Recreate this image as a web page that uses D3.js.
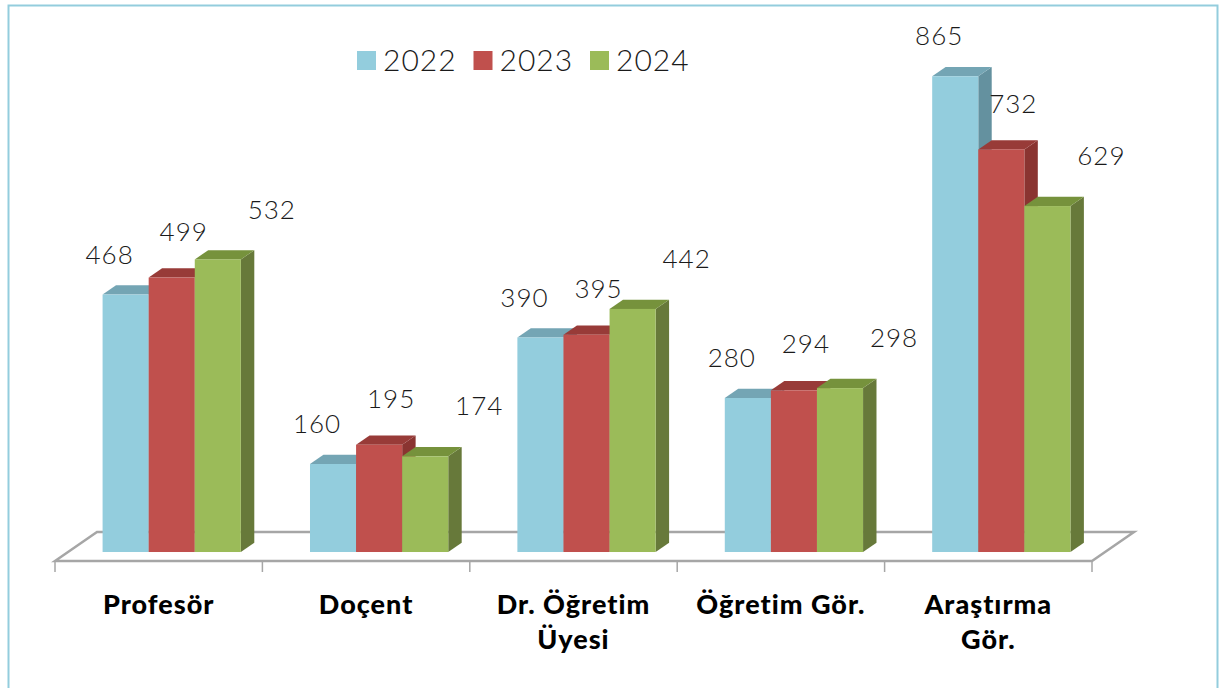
<!DOCTYPE html>
<html>
<head>
<meta charset="utf-8">
<script src="https://cdn.jsdelivr.net/npm/d3@7"></script>
<style>
  body { margin: 0; background: #fff; }
  svg { display: block; }
</style>
</head>
<body>
<svg id="chart"></svg>
<script>
// data
const years = ["2022", "2023", "2024"];
const categories = ["Profesör", "Doçent", "Dr. Öğretim Üyesi", "Öğretim Gör.", "Araştırma Gör."];
const catLines = [["Profesör"], ["Doçent"], ["Dr. Öğretim", "Üyesi"], ["Öğretim Gör."], ["Araştırma", "Gör."]];
const v2022 = [468, 160, 390, 280, 865];
const v2023 = [499, 195, 395, 294, 732];
const v2024 = [532, 174, 442, 298, 629];

const series = [v2022, v2023, v2024];
const colors = {
  front: ["#93CDDD", "#C0504D", "#9BBB59"],
  side:  ["#64919F", "#8A3431", "#67793A"],
  top:   ["#74A5B4", "#983B38", "#76923C"]
};

const W = 1219, H = 688;
const floorY = 561;
const depth = {dx: 42, dy: -29};   // full floor depth
const k0 = 0.31, k1 = 0.63;          // bar depth slot inside floor

const svg = d3.select("#chart").attr("width", W).attr("height", H);

// outer frame
svg.append("rect")
  .attr("x", 8.5).attr("y", 5.5)
  .attr("width", 1209).attr("height", 700)
  .attr("fill", "none")
  .attr("stroke", "#93CDDD")
  .attr("stroke-width", 2);

const x = d3.scaleBand().domain(categories).range([55, 1092]).padding(0);
const xs = d3.scaleBand().domain(years).range([0, x.bandwidth()])
  .paddingInner(0).paddingOuter(0.75);
const h = d3.scaleLinear().domain([0, 1000]).range([0, 550]);

// floor
const fl = 55, fr = 1092;
const floor = svg.append("g")
  .attr("fill", "none")
  .attr("stroke", "#A6A6A6")
  .attr("stroke-width", 2.5);
floor.append("path")
  .attr("d", `M${fl},${floorY} L${fl + depth.dx},${floorY + depth.dy} L${fr + depth.dx},${floorY + depth.dy} L${fr},${floorY} Z`)
  .attr("fill", "#fff");
const tickXs = categories.map(c => x(c)).concat([x.range()[1]]);
floor.selectAll("line.tick")
  .data(tickXs)
  .enter().append("line")
  .attr("class", "tick")
  .attr("x1", d => d).attr("x2", d => d)
  .attr("y1", floorY).attr("y2", floorY + 11)
  .attr("stroke-width", 1.5);

// bars
const bx0 = depth.dx * k0, by0 = floorY + depth.dy * k0;
const tdx = depth.dx * (k1 - k0), tdy = depth.dy * (k1 - k0);

const bars = [];
categories.forEach((c, i) => {
  years.forEach((yr, s) => {
    const v = series[s][i];
    const x0 = x(c) + xs(yr) + bx0;
    const x1 = x0 + xs.bandwidth();
    const yTop = by0 - h(v);
    bars.push({c, i, s, v, x0, x1, yTop});
  });
});

const g = svg.append("g");
bars.forEach(b => {
  g.append("path")
    .attr("d", `M${b.x1},${by0} L${b.x1 + tdx},${by0 + tdy} L${b.x1 + tdx},${b.yTop + tdy} L${b.x1},${b.yTop} Z`)
    .attr("fill", colors.side[b.s]);
  g.append("path")
    .attr("d", `M${b.x0},${b.yTop} L${b.x0 + tdx},${b.yTop + tdy} L${b.x1 + tdx},${b.yTop + tdy} L${b.x1},${b.yTop} Z`)
    .attr("fill", colors.top[b.s]);
  g.append("rect")
    .attr("x", b.x0).attr("y", b.yTop)
    .attr("width", b.x1 - b.x0).attr("height", by0 - b.yTop)
    .attr("fill", colors.front[b.s]);
});

// value labels (excel 3d style, pushed up and to the right per series)
const labDx = [-16, 12, 54], labDy = [-40, -46, -50];
svg.append("g")
  .selectAll("text")
  .data(bars)
  .enter().append("text")
  .attr("x", d => (d.x0 + d.x1) / 2 + labDx[d.s])
  .attr("y", d => d.yTop + labDy[d.s])
  .attr("dy", "0.35em")
  .attr("text-anchor", "middle")
  .style("font-family", "Lato, 'Open Sans', sans-serif")
  .style("font-weight", "300")
  .style("font-size", "26px")
  .style("letter-spacing", "1px")
  .style("fill", "#1a1a1a")
  .text(d => d.v);

// category labels
const cat = svg.append("g")
  .selectAll("text")
  .data(categories)
  .enter().append("text")
  .attr("x", d => x(d) + x.bandwidth() / 2)
  .attr("y", 614)
  .attr("text-anchor", "middle")
  .style("font-family", "Lato, sans-serif")
  .style("font-weight", "900")
  .style("font-size", "27px")
  .style("letter-spacing", "1px")
  .style("fill", "#000");
cat.each(function(d, i) {
  const t = d3.select(this);
  catLines[i].forEach((line, j) => {
    t.append("tspan")
      .attr("x", x(d) + x.bandwidth() / 2)
      .attr("dy", j === 0 ? 0 : 35)
      .text(line);
  });
});

// legend
const leg = svg.append("g").attr("transform", "translate(357,51)");
const li = leg.selectAll("g")
  .data(years)
  .enter().append("g")
  .attr("transform", (d, i) => `translate(${i * 116.5},0)`);
li.append("rect")
  .attr("width", 19).attr("height", 19)
  .attr("fill", (d, i) => colors.front[i]);
li.append("text")
  .attr("x", 26).attr("y", 19.5)
  .style("font-family", "Lato, sans-serif")
  .style("font-weight", "300")
  .style("font-size", "30px")
  .style("letter-spacing", "1px")
  .style("fill", "#1a1a1a")
  .text(d => d);
</script>
</body>
</html>
